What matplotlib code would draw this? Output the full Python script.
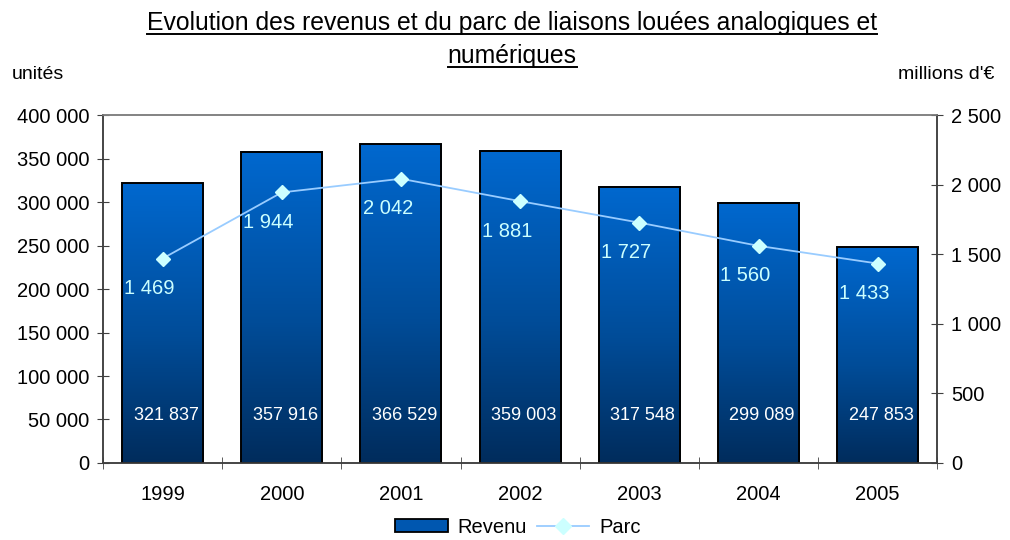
import numpy as np
import matplotlib
matplotlib.use("Agg")
import matplotlib.pyplot as plt
from matplotlib.lines import Line2D
from matplotlib.patches import Patch
from matplotlib.colors import LinearSegmentedColormap

plt.rcParams['font.family'] = ['Liberation Sans', 'DejaVu Sans']

years = ['1999', '2000', '2001', '2002', '2003', '2004', '2005']
revenu = [321837, 357916, 366529, 359003, 317548, 299089, 247853]
parc = [1469, 1944, 2042, 1881, 1727, 1560, 1433]
left_ticks = [0, 50000, 100000, 150000, 200000, 250000, 300000, 350000, 400000]
right_ticks = [0, 500, 1000, 1500, 2000, 2500]


def fmt(v):
    return f"{int(v):,}".replace(",", " ")


fig = plt.figure(figsize=(10.1, 5.4), dpi=100)
ax = fig.add_axes([0.102, 0.1426, 0.826, 0.6444])
ax2 = ax.twinx()

x = np.arange(len(years))
width = 0.68
grad = LinearSegmentedColormap.from_list(
    "bar", [(0.0, "#002c5c"), (0.45, "#004c98"), (1.0, "#0068cf")])
gimg = np.linspace(0, 1, 256).reshape(-1, 1)

for xi, v in zip(x, revenu):
    ax.imshow(gimg, cmap=grad, origin='lower', aspect='auto',
              extent=[xi - width / 2, xi + width / 2, 0, v], zorder=2)
    ax.bar(xi, v, width=width, facecolor='none', edgecolor='black',
           linewidth=1.4, zorder=3)
    ax.text(xi + 0.03, 55000, fmt(v), color='white', ha='center', va='center',
            fontsize=13, zorder=5)

ax.set_xlim(-0.5, len(years) - 0.5)
ax.set_ylim(0, 400000)
ax.set_yticks(left_ticks)
ax.set_yticklabels([fmt(t) for t in left_ticks])
ax.set_xticks(x)
ax.set_xticklabels(years)
ax.set_xticks(np.arange(-0.5, len(years), 1.0), minor=True)
ax.tick_params(axis='x', which='major', length=0, pad=16, labelsize=14.5)
ax.tick_params(axis='x', which='minor', length=8, direction='inout', color='#404040')
ax.tick_params(axis='y', length=8, direction='inout', labelsize=14.5, color='#404040',
               pad=6)

ax2.set_ylim(0, 2500)
ax2.set_yticks(right_ticks)
ax2.set_yticklabels([fmt(t) for t in right_ticks])
ax2.tick_params(axis='y', length=8, direction='inout', labelsize=14.5, color='#404040',
                pad=6)
ax2.plot(x, parc, color='#99ccff', linewidth=1.3, marker='D', markersize=7,
         markerfacecolor='#ccffff', markeredgecolor='#ccffff', zorder=6)
for xi, v in zip(x, parc):
    ax2.text(xi - 0.11, v - 215, fmt(v), color='#ccffff', ha='center',
             va='center', fontsize=14.5, zorder=7)

for a in (ax, ax2):
    for s in a.spines.values():
        s.set_color('#404040')
        s.set_linewidth(1.1)
    a.spines['top'].set_color('#808080')

fig.text(0.012, 0.862, "unités", fontsize=14, ha='left', va='center')
fig.text(0.985, 0.862, "millions d'€", fontsize=14, ha='right', va='center')

t1 = fig.text(0.507, 0.958, "Evolution des revenus et du parc de liaisons louées analogiques et",
              fontsize=17.8, ha='center', va='center')
t2 = fig.text(0.507, 0.897, "numériques", fontsize=17.8, ha='center', va='center')

fig.canvas.draw()
r = fig.canvas.get_renderer()
inv = fig.transFigure.inverted()
for t in (t1, t2):
    bb = t.get_window_extent(renderer=r)
    (x0, y0), (x1, _) = inv.transform([(bb.x0, bb.y0), (bb.x1, bb.y1)])
    fig.add_artist(Line2D([x0, x1], [y0 + 0.002, y0 + 0.002], color='black',
                          linewidth=1.4, transform=fig.transFigure))

handles = [Patch(facecolor='#0057b0', edgecolor='black', linewidth=1.3, label='Revenu'),
           Line2D([], [], color='#99ccff', linewidth=1.3, marker='D', markersize=8,
                  markerfacecolor='#ccffff', markeredgecolor='#ccffff', label='Parc')]
fig.legend(handles=handles, loc='center', bbox_to_anchor=(0.513, 0.024), ncol=2,
           frameon=False, fontsize=14.5, handlelength=2.6, handleheight=0.6,
           columnspacing=0.5, handletextpad=0.5)

fig.savefig("out.png", dpi=100)
